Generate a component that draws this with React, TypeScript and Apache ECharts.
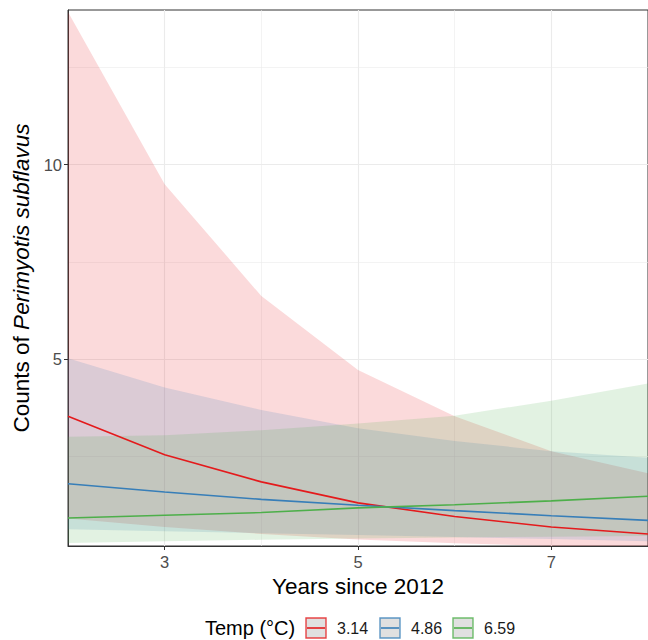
import { useEffect, useRef } from "react";
import * as echarts from "echarts";

// ---- data ----
const years = [2, 3, 4, 5, 6, 7, 8];
const tempLabels = ["3.14", "4.86", "6.59"];
const colors = ["#E41A1C", "#377EB8", "#4DAF4A"];

const meanT1 = [3.53, 2.54, 1.84, 1.3, 0.95, 0.68, 0.5];
const lowerT1 = [0.9, 0.68, 0.5, 0.36, 0.26, 0.19, 0.13];
const upperT1 = [13.93, 9.5, 6.62, 4.72, 3.53, 2.63, 2.06];

const meanT2 = [1.79, 1.58, 1.39, 1.24, 1.1, 0.97, 0.85];
const lowerT2 = [0.62, 0.57, 0.52, 0.47, 0.42, 0.37, 0.31];
const upperT2 = [5.02, 4.27, 3.69, 3.22, 2.89, 2.63, 2.46];

const meanT3 = [0.91, 0.98, 1.05, 1.17, 1.25, 1.35, 1.47];
const lowerT3 = [0.27, 0.31, 0.35, 0.38, 0.41, 0.43, 0.45];
const upperT3 = [3.0, 3.04, 3.17, 3.34, 3.54, 3.93, 4.37];

const xTicks = [3, 5, 7];
const xMinor = [4, 6];
const yTicks = [5, 10];
const yMinor = [2.5, 7.5, 12.5];

const FONT = "'Liberation Sans', Arial, Helvetica, sans-serif";

export default function App() {
  const ref = useRef<HTMLDivElement>(null);

  useEffect(() => {
    if (!ref.current) return;
    const chart = echarts.init(ref.current, undefined, { renderer: "svg" });

    const groups = [
      { mean: meanT1, lower: lowerT1, upper: upperT1 },
      { mean: meanT2, lower: lowerT2, upper: upperT2 },
      { mean: meanT3, lower: lowerT3, upper: upperT3 },
    ];

    const gridColor = "#EBEBEB";
    const markData: any[] = [
      ...xTicks.map((v) => ({ xAxis: v, lineStyle: { width: 1.1, color: gridColor, type: "solid" } })),
      ...xMinor.map((v) => ({ xAxis: v, lineStyle: { width: 0.6, color: gridColor, type: "solid" } })),
      ...yTicks.map((v) => ({ yAxis: v, lineStyle: { width: 1.1, color: gridColor, type: "solid" } })),
      ...yMinor.map((v) => ({ yAxis: v, lineStyle: { width: 0.6, color: gridColor, type: "solid" } })),
    ];

    const series: any[] = [];
    groups.forEach((g, i) => {
      const data = years.map((x, j) => [x, g.lower[j], g.upper[j]]);
      series.push({
        type: "custom",
        clip: true,
        silent: true,
        z: 1,
        encode: { x: 0, y: [1, 2] },
        data,
        renderItem: (params: any, api: any) => {
          if (params.dataIndex !== 0) return null;
          const top = data.map((d) => api.coord([d[0], d[2]]));
          const bottom = data
            .slice()
            .reverse()
            .map((d) => api.coord([d[0], d[1]]));
          return {
            type: "polygon",
            shape: { points: top.concat(bottom) },
            style: { fill: colors[i], opacity: 0.16 },
          };
        },
        markLine:
          i === 0
            ? {
                z: 0,
                silent: true,
                symbol: ["none", "none"],
                label: { show: false },
                emphasis: { disabled: true },
                animation: false,
                data: markData,
              }
            : undefined,
      });
    });
    groups.forEach((g, i) => {
      series.push({
        type: "line",
        name: tempLabels[i],
        data: years.map((x, j) => [x, g.mean[j]]),
        symbol: "none",
        lineStyle: { color: colors[i], width: 1.6 },
        silent: true,
        z: 3,
      });
    });

    const keyX = [306, 380, 453];
    const legendEls: any[] = [
      {
        type: "text",
        x: 205,
        y: 628,
        style: { text: "Temp (°C)", font: `20px ${FONT}`, fill: "#000", verticalAlign: "middle" },
      },
    ];
    tempLabels.forEach((t, i) => {
      const kx = keyX[i];
      legendEls.push({
        type: "rect",
        shape: { x: kx, y: 618, width: 20, height: 20 },
        style: { fill: "#E0E0E0", stroke: colors[i], lineWidth: 1.4, strokeOpacity: 0.8 },
      });
      legendEls.push({
        type: "line",
        shape: { x1: kx + 1, y1: 628, x2: kx + 19, y2: 628 },
        style: { stroke: colors[i], lineWidth: 1.6 },
      });
      legendEls.push({
        type: "text",
        x: kx + 31,
        y: 628,
        style: { text: t, font: `16px ${FONT}`, fill: "#1a1a1a", verticalAlign: "middle" },
      });
    });

    chart.setOption({
      animation: false,
      textStyle: { fontFamily: FONT },
      grid: {
        left: 68,
        right: -3,
        top: 10,
        bottom: 94,
        show: true,
        borderColor: "#333333",
        borderWidth: 1,
        backgroundColor: "transparent",
        containLabel: false,
      },
      xAxis: {
        type: "value",
        min: 2,
        max: 8,
        name: "Years since 2012",
        nameLocation: "middle",
        nameGap: 24,
        nameTextStyle: { fontSize: 22.5, color: "#000", fontFamily: FONT },
        axisLine: { show: true, lineStyle: { color: "#333333", width: 1 } },
        axisTick: { show: true, length: 4, customValues: xTicks, lineStyle: { color: "#333333" } },
        axisLabel: { customValues: xTicks, fontSize: 16.5, color: "#4D4D4D", margin: 7, fontFamily: FONT },
        splitLine: { show: false },
      },
      yAxis: {
        type: "value",
        min: 0.19,
        max: 13.98,
        name: "{n|Counts of }{i|Perimyotis subflavus}",
        nameLocation: "middle",
        nameGap: 31,
        nameTextStyle: {
          fontSize: 22.5,
          color: "#000",
          fontFamily: FONT,
          rich: {
            n: { fontSize: 22.5, color: "#000", fontFamily: FONT },
            i: { fontSize: 22.5, color: "#000", fontStyle: "italic", fontFamily: FONT },
          },
        },
        axisLine: { show: true, lineStyle: { color: "#333333", width: 1 } },
        axisTick: { show: true, length: 4, customValues: yTicks, lineStyle: { color: "#333333" } },
        axisLabel: { customValues: yTicks, fontSize: 16.5, color: "#4D4D4D", margin: 6, fontFamily: FONT },
        splitLine: { show: false },
      },
      series,
      graphic: { elements: legendEls },
    });

    return () => chart.dispose();
  }, []);

  return (
    <div
      ref={ref}
      style={{ position: "fixed", left: 0, top: 0, width: 648, height: 640, background: "#fff" }}
    />
  );
}
